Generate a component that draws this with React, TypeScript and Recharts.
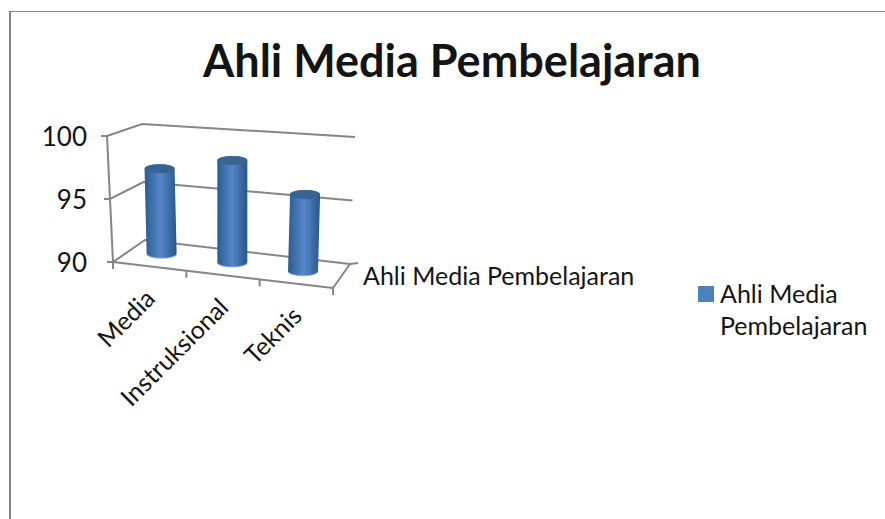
import { Bar, BarChart, CartesianGrid, Legend, XAxis, YAxis } from 'recharts';

const categories = ['Media', 'Instruksional', 'Teknis'];
const scores = [97, 98.4, 96.3];
const valueTicks = [90, 95, 100];
const seriesName = 'Ahli Media Pembelajaran';
const legendLines = ['Ahli Media', 'Pembelajaran'];

const chartData = categories.map((name, i) => ({ name, score: scores[i] }));

const FONT = 'Lato, Carlito, sans-serif';
const GREY = '#868686';
const INK = '#141414';

// plot rectangle, the front edge of the floor is sheared down to the right
const LEFT = 113;
const RIGHT = 333;
const TOP = 136;
const BOTTOM = 262;
const FLOOR_SLOPE = 26 / 220;

const level = (y: number) => (BOTTOM - y) / (BOTTOM - TOP);
const frontLeft = (y: number) => ({ x: LEFT - 6 * level(y), y });
const backLeft = (y: number) => ({ x: 145 - 3 * level(y), y: 240 - 116 * level(y) });
const backRight = (y: number) => ({ x: 350 + 5 * level(y), y: 264 - 127 * level(y) });

// wall gridline for one value level: tick, side wall, back wall
function WallLine(props: any) {
  const a = frontLeft(props.y1);
  const b = backLeft(props.y1);
  const c = backRight(props.y1);
  return (
    <polyline
      key={props.key}
      points={`${a.x - 6},${a.y} ${a.x},${a.y} ${b.x},${b.y} ${c.x},${c.y}`}
      fill="none"
      stroke={GREY}
      strokeWidth={2}
    />
  );
}

function FloorEdges() {
  const topLeft = frontLeft(TOP);
  const frontRightY = BOTTOM + FLOOR_SLOPE * (RIGHT - LEFT);
  return (
    <g fill="none" stroke={GREY} strokeWidth={2}>
      <line x1={topLeft.x} y1={topLeft.y} x2={LEFT} y2={BOTTOM} />
      <line x1={LEFT} y1={BOTTOM} x2={RIGHT} y2={frontRightY} />
      <line x1={RIGHT} y1={frontRightY} x2={350} y2={264} />
      <line x1={350} y1={264} x2={358} y2={263} />
    </g>
  );
}

function ValueTick({ x, y, payload }: any) {
  return (
    <text x={x - 18} y={y + 10} textAnchor="end" fontFamily={FONT} fontSize={26} fill={INK}>
      {payload.value}
    </text>
  );
}

function CategoryTick({ x, y, payload, index }: any) {
  const band = (RIGHT - LEFT) / categories.length;
  const tickX = LEFT + band * index;
  const edgeY = BOTTOM + FLOOR_SLOPE * (tickX - LEFT);
  const labelX = x + 7;
  const labelY = BOTTOM + FLOOR_SLOPE * (x - LEFT) + 34;
  return (
    <g>
      <line x1={tickX} y1={edgeY} x2={tickX} y2={edgeY + 7} stroke={GREY} strokeWidth={2} />
      {index === categories.length - 1 && (
        <line x1={RIGHT} y1={BOTTOM + 26} x2={RIGHT} y2={BOTTOM + 33} stroke={GREY} strokeWidth={2} />
      )}
      <text
        x={labelX}
        y={labelY}
        textAnchor="end"
        transform={`rotate(-45 ${labelX} ${labelY})`}
        fontFamily={FONT}
        fontSize={25}
        fill={INK}
      >
        {payload.value}
      </text>
    </g>
  );
}

// cylinder standing halfway back on the floor, drawn from the bar's scaled box
function Cylinder({ x, y, width, height, fill }: any) {
  const cx = x + width / 2;
  const base = y + height + FLOOR_SLOPE * (cx - LEFT) - 13;
  const top = base - height * 0.96;
  const lean = (cx - 223) * 0.028;
  // the floor narrows toward the back, so the row is pulled in a little
  const bottomX = cx + 9 - (cx - 223) * 0.036;
  const topX = bottomX + lean;
  const rx = width / 2;
  const ry = 4.5;
  const body =
    `M${topX - rx},${top} L${bottomX - rx},${base} ` +
    `A${rx},${ry} 0 0 0 ${bottomX + rx},${base} ` +
    `L${topX + rx},${top} A${rx},${ry} 0 0 0 ${topX - rx},${top} Z`;
  return (
    <g>
      <ellipse cx={bottomX} cy={base + 1} rx={rx} ry={ry} fill="#8db4e8" />
      <path d={body} fill={fill} />
      <ellipse cx={topX} cy={top} rx={rx} ry={ry} fill="#386392" />
    </g>
  );
}

function LegendBox() {
  return (
    <div style={{ fontFamily: FONT, fontSize: 25, lineHeight: '32px', color: INK, position: 'relative', paddingLeft: 22 }}>
      <span style={{ position: 'absolute', left: 0, top: 9, width: 16, height: 16, background: '#4f81bd' }} />
      {legendLines.map((line) => (
        <div key={line}>{line}</div>
      ))}
    </div>
  );
}

export default function App() {
  return (
    <div style={{ position: 'absolute', left: 0, top: 0, width: 885, height: 519, overflow: 'hidden', background: '#fff' }}>
      <div
        style={{
          position: 'absolute',
          left: 9,
          top: 11,
          right: 0,
          bottom: 0,
          borderTop: `1px solid ${GREY}`,
          borderLeft: `2px solid ${GREY}`,
        }}
      />
      <BarChart
        width={885}
        height={519}
        data={chartData}
        margin={{ top: TOP, left: LEFT - 60, right: 885 - RIGHT, bottom: 519 - BOTTOM - 60 }}
        barSize={30}
        style={{ position: 'absolute', left: 0, top: 0 }}
      >
        <defs>
          <linearGradient id="cylinderFill" x1="0" y1="0" x2="1" y2="0">
            <stop offset="0" stopColor="#2c5a90" />
            <stop offset="0.25" stopColor="#4273ad" />
            <stop offset="0.5" stopColor="#5488cb" />
            <stop offset="0.75" stopColor="#3f6fa9" />
            <stop offset="1" stopColor="#2a5688" />
          </linearGradient>
        </defs>
        <text x={452} y={77} textAnchor="middle" fontFamily={FONT} fontWeight={700} fontSize={45} fill={INK}>
          {seriesName}
        </text>
        <text x={363} y={285} fontFamily={FONT} fontSize={25} fill={INK}>
          {seriesName}
        </text>
        <CartesianGrid vertical={false} horizontal={WallLine} />
        <FloorEdges />
        <XAxis dataKey="name" axisLine={false} tickLine={false} height={60} tick={CategoryTick} interval={0} />
        <YAxis
          domain={[90, 100]}
          ticks={valueTicks}
          axisLine={false}
          tickLine={false}
          width={60}
          tick={ValueTick}
        />
        <Bar dataKey="score" name={seriesName} fill="url(#cylinderFill)" shape={Cylinder} isAnimationActive={false} />
        <Legend
          layout="horizontal"
          verticalAlign="middle"
          content={LegendBox}
          wrapperStyle={{ position: 'absolute', left: 698, top: 277, width: 180, bottom: 'auto' }}
        />
      </BarChart>
    </div>
  );
}
